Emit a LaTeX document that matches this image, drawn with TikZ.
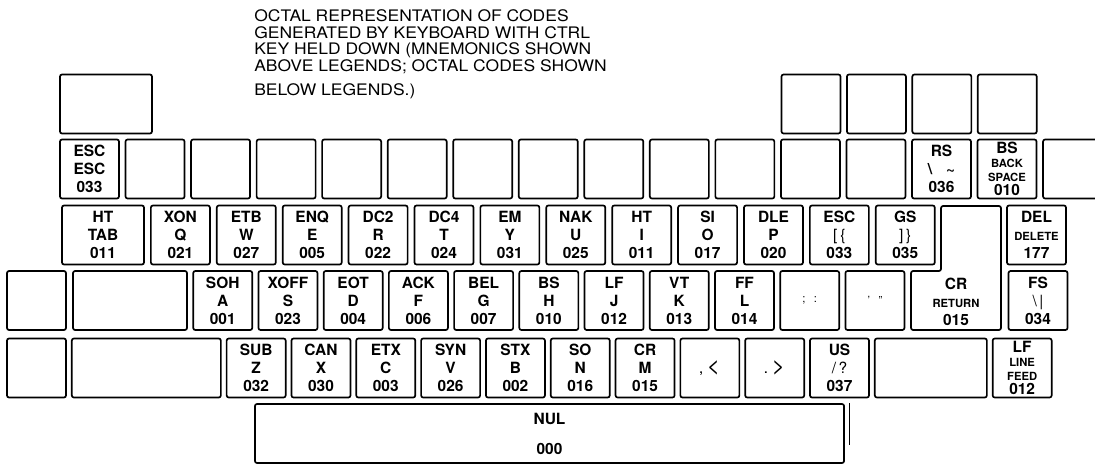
\documentclass[tikz,border=0pt]{standalone}
\usepackage{fontspec}
\setmainfont{TeX Gyre Heros}
\newfontfamily\titlefont[FakeStretch=1.1]{TeX Gyre Heros}
\usetikzlibrary{positioning}
\newcommand{\lbl}[1]{{\fontsize{8}{8.5}\selectfont #1}}

\begin{document}
\begin{tikzpicture}[x=0.025cm,y=-0.025cm,
    k/.style={draw,line width=1.2pt,rounded corners=1.5pt,outer sep=0pt,
              minimum width=1.475cm,minimum height=1.475cm,inner sep=0pt,
              align=center,font=\fontsize{11}{12.8}\selectfont\bfseries},
    t/.style={anchor=north west,align=left,inner sep=0pt,
              font=\titlefont\fontsize{11.3}{12}\selectfont}
  ]
  \useasboundingbox (0,0) rectangle (1095,465);

  \node[t] (title) at (254,9) {OCTAL REPRESENTATION OF CODES\\
    GENERATED BY KEYBOARD WITH CTRL\\KEY HELD DOWN (MNEMONICS SHOWN\\
    ABOVE LEGENDS; OCTAL CODES SHOWN\\[5pt]BELOW LEGENDS.)};

  % top row
  \node[k,minimum width=2.3cm] (topl) at (106,104) {};
  \node[k] (topa) at (811,104) {};
  \node[k,right=1.6mm of topa] (topb) {};
  \node[k,right=1.6mm of topb] (topc) {};
  \node[k,right=1.6mm of topc] (topd) {};

  % number row
  \node[k] (esc) at (89.5,169) {ESC\\ESC\\033};
  \node[k,right=1.63mm of esc] (n1) {};
  \node[k,right=1.63mm of n1] (n2) {};
  \node[k,right=1.63mm of n2] (n3) {};
  \node[k,right=1.63mm of n3] (n4) {};
  \node[k,right=1.63mm of n4] (n5) {};
  \node[k,right=1.63mm of n5] (n6) {};
  \node[k,right=1.63mm of n6] (n7) {};
  \node[k,right=1.63mm of n7] (n8) {};
  \node[k,right=1.63mm of n8] (n9) {};
  \node[k,right=1.63mm of n9] (n10) {};
  \node[k,right=1.63mm of n10] (n11) {};
  \node[k,right=1.63mm of n11] (n12) {};
  \node[k,right=1.63mm of n12] (rs) {RS\\\textbackslash\hspace{0.9em}\textasciitilde\\036};
  \node[k,right=1.63mm of rs] (bksp) {BS\\[-3pt]\lbl{BACK}\\[-3pt]\lbl{SPACE}\\[-3pt]010};
  \node[k,right=1.63mm of bksp] (n13) {};

  % upper row
  \node[k,minimum width=2.05cm] (tab) at (103,235) {HT\\TAB\\011};
  \node[k,right=1.72mm of tab] (keyq) {XON\\Q\\021};
  \node[k,right=1.72mm of keyq] (keyw) {ETB\\W\\027};
  \node[k,right=1.72mm of keyw] (keye) {ENQ\\E\\005};
  \node[k,right=1.72mm of keye] (keyr) {DC2\\R\\022};
  \node[k,right=1.72mm of keyr] (keyt) {DC4\\T\\024};
  \node[k,right=1.72mm of keyt] (keyy) {EM\\Y\\031};
  \node[k,right=1.72mm of keyy] (keyu) {NAK\\U\\025};
  \node[k,right=1.72mm of keyu] (keyi) {HT\\I\\011};
  \node[k,right=1.72mm of keyi] (keyo) {SI\\O\\017};
  \node[k,right=1.72mm of keyo] (keyp) {DLE\\P\\020};
  \node[k,right=1.72mm of keyp] (lbrk) {ESC\\{\mdseries[\hspace{2pt}\{}\\033};
  \node[k,right=1.72mm of lbrk] (rbrk) {GS\\{\mdseries]\hspace{2pt}\}}\\035};
  \node[k] (del) at (1036.5,235) {DEL\\\lbl{DELETE}\\177};

  % return key
  \draw[line width=1.2pt,rounded corners=1.5pt] (941,206) -- (1001,206) -- (1001,330)
    -- (911,330) -- (911,271) -- (941,271) -- cycle;
  \node[align=center,font=\fontsize{11}{12.8}\selectfont\bfseries] (ret) at (956,302)
    {CR\\\lbl{RETURN}\\015};

  % home row
  \node[k] (ctl) at (36.5,300.5) {};
  \node[k,minimum width=2.85cm,right=1.75mm of ctl] (lock) {};
  \node[k,right=1.55mm of lock] (keya) {SOH\\A\\001};
  \node[k,right=1.55mm of keya] (keys) {XOFF\\S\\023};
  \node[k,right=1.55mm of keys] (keyd) {EOT\\D\\004};
  \node[k,right=1.55mm of keyd] (keyf) {ACK\\F\\006};
  \node[k,right=1.55mm of keyf] (keyg) {BEL\\G\\007};
  \node[k,right=1.55mm of keyg] (keyh) {BS\\H\\010};
  \node[k,right=1.55mm of keyh] (keyj) {LF\\J\\012};
  \node[k,right=1.55mm of keyj] (keyk) {VT\\K\\013};
  \node[k,right=1.55mm of keyk] (keyl) {FF\\L\\014};
  \node[k,right=1.55mm of keyl] (semi) {\lbl{\mdseries;\hspace{6pt}:}};
  \node[k,right=1.55mm of semi] (quot) {\lbl{\mdseries'\hspace{6pt}"}};
  \node[k] (fs) at (1038,300.5) {FS\\{\mdseries\textbackslash\,|}\\034};

  % bottom row
  \node[k] (shl) at (36.5,368) {};
  \node[k,minimum width=3.725cm,right=1.45mm of shl] (shift) {};
  \node[k,right=1.45mm of shift] (keyz) {SUB\\Z\\032};
  \node[k,right=1.45mm of keyz] (keyx) {CAN\\X\\030};
  \node[k,right=1.45mm of keyx] (keyc) {ETX\\C\\003};
  \node[k,right=1.45mm of keyc] (keyv) {SYN\\V\\026};
  \node[k,right=1.45mm of keyv] (keyb) {STX\\B\\002};
  \node[k,right=1.45mm of keyb] (keyn) {SO\\N\\016};
  \node[k,right=1.45mm of keyn] (keym) {CR\\M\\015};
  \node[k,right=1.45mm of keym] (comma) {\lbl{,}\hspace{3pt}{\mdseries\fontsize{16}{16}\selectfont <}};
  \node[k,right=1.45mm of comma] (period) {\lbl{.}\hspace{3pt}{\mdseries\fontsize{16}{16}\selectfont >}};
  \node[k,right=1.45mm of period] (slash) {US\\{\mdseries/\,?}\\037};
  \node[k,minimum width=2.8cm,right=1.45mm of slash] (shr) {};
  \node[k,right=1.45mm of shr] (lf) {LF\\[-3pt]\lbl{LINE}\\[-3pt]\lbl{FEED}\\[-3pt]012};

  % space bar
  \node[k,minimum width=14.725cm] (space) at (549.5,433.5) {NUL\\[8.5pt]000};
  \draw[line width=0.6pt] (849,403) -- (849,445);
\end{tikzpicture}
\end{document}
